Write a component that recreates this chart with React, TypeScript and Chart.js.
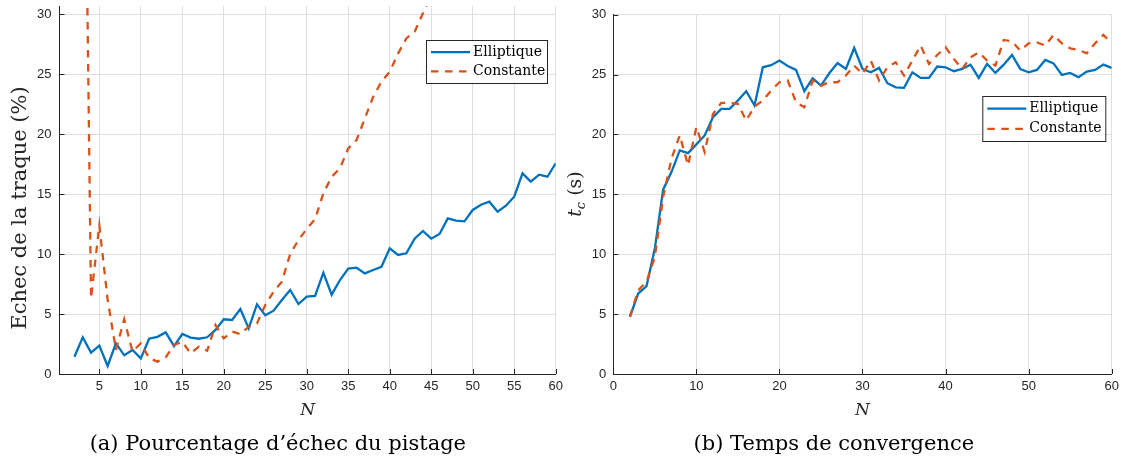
import React, { useEffect, useRef } from 'react';
import { Chart, registerables } from 'chart.js';

Chart.register(...registerables);

// ---------- data ----------
const nValues = [
  2, 3, 4, 5, 6, 7, 8, 9, 10, 11, 12, 13, 14, 15, 16, 17, 18, 19, 20, 21,
  22, 23, 24, 25, 26, 27, 28, 29, 30, 31, 32, 33, 34, 35, 36, 37, 38, 39, 40, 41,
  42, 43, 44, 45, 46, 47, 48, 49, 50, 51, 52, 53, 54, 55, 56, 57, 58, 59, 60,
];

// (a) Pourcentage d'échec du pistage (%)
const failElliptique = [
  1.44, 3.06, 1.78, 2.36, 0.67, 2.56, 1.56, 2.0, 1.3, 2.94, 3.1, 3.47, 2.33, 3.33, 3.03, 2.94, 3.06, 3.67, 4.56, 4.5,
  5.42, 3.8, 5.8, 4.89, 5.28, 6.17, 7.0, 5.83, 6.44, 6.5, 8.44, 6.61, 7.83, 8.78, 8.86, 8.39, 8.67, 8.94, 10.47, 9.92,
  10.06, 11.28, 11.92, 11.28, 11.67, 12.97, 12.78, 12.72, 13.67, 14.11, 14.36, 13.53, 14.03, 14.78, 16.72, 16.03, 16.61, 16.44, 17.56,
];
const failConstante: (number | null)[] = [
  null, 62, 6.3, 12.4, 6.2, 2.0, 4.56, 1.86, 2.56, 1.33, 1.03, 1.39, 2.42, 2.69, 1.72, 2.28, 1.94, 4.08, 2.97, 3.53,
  3.33, 3.94, 4.22, 5.75, 6.86, 7.7, 10.0, 11.17, 12.1, 12.9, 15.06, 16.44, 17.14, 18.8, 19.5, 21.3, 23.1, 24.36, 25.2, 26.7,
  27.97, 28.53, 30.06, 31.6, null, null, null, null, null, null, null, null, null, null, null, null, null, null, null,
];

// (b) Temps de convergence t_c (s)
const tcElliptique = [
  4.78, 6.72, 7.33, 10.47, 15.39, 16.86, 18.67, 18.44, 19.17, 19.92, 21.44, 22.14, 22.14, 22.83, 23.61, 22.42, 25.61, 25.78, 26.17, 25.72,
  25.39, 23.61, 24.69, 24.08, 25.11, 25.97, 25.47, 27.22, 25.47, 25.19, 25.56, 24.28, 23.94, 23.89, 25.19, 24.72, 24.72, 25.67, 25.61, 25.28,
  25.47, 25.83, 24.72, 25.89, 25.14, 25.83, 26.64, 25.47, 25.19, 25.39, 26.22, 25.94, 24.97, 25.14, 24.78, 25.25, 25.39, 25.83, 25.56,
];
const tcConstante = [
  4.78, 7.0, 7.69, 9.78, 14.78, 17.97, 19.92, 17.42, 20.61, 18.53, 21.72, 22.64, 22.64, 22.56, 21.17, 22.33, 22.83, 23.67, 24.36, 24.5,
  22.69, 22.28, 24.5, 24.08, 24.36, 24.36, 24.92, 25.75, 25.05, 26.17, 24.5, 25.61, 26.03, 24.92, 26.17, 27.42, 25.89, 26.64, 27.28, 26.31,
  25.47, 26.44, 26.86, 26.17, 25.75, 27.89, 27.78, 27.0, 27.61, 27.69, 27.42, 28.31, 27.61, 27.19, 27.06, 26.78, 27.61, 28.31, 27.61,
];

const failXTicks = [5, 10, 15, 20, 25, 30, 35, 40, 45, 50, 55, 60];
const failYTicks = [0, 5, 10, 15, 20, 25, 30];
const tcXTicks = [0, 10, 20, 30, 40, 50, 60];
const tcYTicks = [0, 5, 10, 15, 20, 25, 30];

const seriesLabels = ['Elliptique', 'Constante'];
const xAxisLabel = 'N';
const failYLabel = 'Echec de la traque (%)';
const captionA = '(a) Pourcentage d\u2019échec du pistage';
const captionB = '(b) Temps de convergence';

// ---------- styles ----------
const BLUE = '#0072BD';
const ORANGE = '#D95319';
const AXIS = '#262626';
const GRID = '#dfdfdf';
const SERIF = '"DejaVu Serif", "Liberation Serif", serif';
const SANS = '"Liberation Sans", Arial, sans-serif';
const LINE_W = 2.3;

type Box = { x: number; y: number; w: number; h: number };

function legendPlugin(box: Box) {
  return {
    id: 'boxLegend',
    afterDraw(chart: any) {
      const ctx = chart.ctx as CanvasRenderingContext2D;
      ctx.save();
      ctx.fillStyle = '#ffffff';
      ctx.fillRect(box.x, box.y, box.w, box.h);
      ctx.setLineDash([]);
      ctx.strokeStyle = AXIS;
      ctx.lineWidth = 1;
      ctx.strokeRect(box.x + 0.5, box.y + 0.5, box.w, box.h);
      chart.data.datasets.forEach((ds: any, i: number) => {
        const rowY = box.y + (i === 0 ? box.h * 0.28 : box.h * 0.73);
        ctx.strokeStyle = ds.borderColor;
        ctx.lineWidth = LINE_W;
        ctx.setLineDash(ds.borderDash || []);
        ctx.beginPath();
        ctx.moveTo(box.x + 5, rowY);
        ctx.lineTo(box.x + 44, rowY);
        ctx.stroke();
        ctx.setLineDash([]);
        ctx.fillStyle = '#000';
        ctx.font = `14px ${SERIF}`;
        ctx.textAlign = 'left';
        ctx.textBaseline = 'middle';
        ctx.fillText(ds.label, box.x + 47, rowY);
      });
      ctx.restore();
    },
  };
}

const inwardTicks = {
  id: 'inwardTicks',
  afterDatasetsDraw(chart: any) {
    const { ctx, chartArea, scales } = chart;
    ctx.save();
    ctx.strokeStyle = AXIS;
    ctx.lineWidth = 1;
    ctx.setLineDash([]);
    ctx.beginPath();
    scales.x.ticks.forEach((t: any) => {
      const px = Math.round(scales.x.getPixelForValue(t.value)) + 0.5;
      ctx.moveTo(px, chartArea.bottom);
      ctx.lineTo(px, chartArea.bottom - 5);
    });
    scales.y.ticks.forEach((t: any) => {
      const py = Math.round(scales.y.getPixelForValue(t.value)) + 0.5;
      ctx.moveTo(chartArea.left, py);
      ctx.lineTo(chartArea.left + 5, py);
    });
    ctx.stroke();
    ctx.restore();
  },
};

function yTitlePlugin(draw: (ctx: CanvasRenderingContext2D) => void) {
  return {
    id: 'yTitle',
    afterDraw(chart: any) {
      const ctx = chart.ctx as CanvasRenderingContext2D;
      ctx.save();
      draw(ctx);
      ctx.restore();
    },
  };
}

function buildConfig(p: {
  a: (number | null)[];
  b: (number | null)[];
  xMin: number;
  xMax: number;
  yMax: number;
  xTicks: number[];
  yTicks: number[];
  yAxisWidth: number;
  yPad: number;
  padTop: number;
  padRight: number;
  caption: string;
  legend: Box;
  yTitle: (ctx: CanvasRenderingContext2D) => void;
}): any {
  return {
    type: 'line',
    data: {
      datasets: [
        {
          label: seriesLabels[0],
          data: nValues.map((n, i) => ({ x: n, y: p.a[i] })),
          borderColor: BLUE,
          backgroundColor: BLUE,
          borderWidth: LINE_W,
          pointRadius: 0,
          tension: 0,
          fill: false,
          order: 1,
        },
        {
          label: seriesLabels[1],
          data: nValues.map((n, i) => ({ x: n, y: p.b[i] })),
          borderColor: ORANGE,
          backgroundColor: ORANGE,
          borderWidth: LINE_W,
          borderDash: [7.5, 6.5],
          pointRadius: 0,
          tension: 0,
          fill: false,
          order: 0,
        },
      ],
    },
    options: {
      responsive: false,
      animation: false,
      events: [],
      layout: { padding: { left: 0, top: p.padTop, right: p.padRight, bottom: 0 } },
      plugins: {
        legend: { display: false },
        tooltip: { enabled: false },
        title: {
          display: true,
          position: 'bottom',
          text: p.caption,
          color: '#000',
          font: { family: SERIF, size: 21, weight: 'normal', lineHeight: 1.2 },
          padding: { top: 12.8, bottom: 6 },
        },
      },
      scales: {
        x: {
          type: 'linear',
          bounds: 'data',
          min: p.xMin,
          max: p.xMax,
          afterBuildTicks: (s: any) => {
            s.ticks = p.xTicks.map((v) => ({ value: v }));
          },
          afterFit: (s: any) => {
            s.height = 45;
            s.paddingLeft = 0;
            s.paddingRight = 0;
          },
          grid: { color: GRID, lineWidth: 1, drawTicks: false },
          border: { color: AXIS, width: 1 },
          ticks: { font: { family: SANS, size: 13 }, color: AXIS, padding: 5, maxRotation: 0, autoSkip: false },
          title: {
            display: true,
            text: xAxisLabel,
            color: AXIS,
            font: { family: SERIF, size: 17, style: 'italic', lineHeight: 1 },
            padding: { top: 0, bottom: 0 },
          },
        },
        y: {
          type: 'linear',
          bounds: 'data',
          min: 0,
          max: p.yMax,
          afterBuildTicks: (s: any) => {
            s.ticks = p.yTicks.map((v) => ({ value: v }));
          },
          afterFit: (s: any) => {
            s.width = p.yAxisWidth;
            s.paddingTop = 0;
            s.paddingBottom = 0;
          },
          grid: { color: GRID, lineWidth: 1, drawTicks: false },
          border: { color: AXIS, width: 1 },
          ticks: { font: { family: SANS, size: 13 }, color: AXIS, padding: p.yPad },
          title: { display: false },
        },
      },
    },
    plugins: [inwardTicks, legendPlugin(p.legend), yTitlePlugin(p.yTitle)],
  };
}

export default function App() {
  const ref1 = useRef<HTMLCanvasElement>(null);
  const ref2 = useRef<HTMLCanvasElement>(null);

  useEffect(() => {
    const cfg1 = buildConfig({
      a: failElliptique,
      b: failConstante,
      xMin: 0.2,
      xMax: 60,
      yMax: 30.67,
      xTicks: failXTicks,
      yTicks: failYTicks,
      yAxisWidth: 59.5,
      yPad: 8,
      padTop: 6,
      padRight: 9.3,
      caption: captionA,
      legend: { x: 426, y: 40, w: 121, h: 43 },
      yTitle: (ctx) => {
        ctx.translate(21, 208);
        ctx.rotate(-Math.PI / 2);
        ctx.font = `21px ${SERIF}`;
        ctx.fillStyle = AXIS;
        ctx.textAlign = 'center';
        ctx.textBaseline = 'middle';
        ctx.fillText(failYLabel, 0, 0);
      },
    });
    const cfg2 = buildConfig({
      a: tcElliptique,
      b: tcConstante,
      xMin: 0,
      xMax: 60,
      yMax: 30,
      xTicks: tcXTicks,
      yTicks: tcYTicks,
      yAxisWidth: 57.3,
      yPad: 7,
      padTop: 14.7,
      padRight: 9.3,
      caption: captionB,
      legend: { x: 426.3, y: 96, w: 123, h: 45 },
      yTitle: (ctx) => {
        ctx.translate(19, 194);
        ctx.rotate(-Math.PI / 2);
        ctx.fillStyle = AXIS;
        ctx.textAlign = 'left';
        ctx.textBaseline = 'alphabetic';
        const fMain = `italic 19px ${SERIF}`;
        const fSub = `italic 13px ${SERIF}`;
        const fRest = `19px ${SERIF}`;
        ctx.font = fMain;
        const w1 = ctx.measureText('t').width;
        ctx.font = fSub;
        const w2 = ctx.measureText('c').width;
        ctx.font = fRest;
        const w3 = ctx.measureText(' (s)').width;
        let cx = -(w1 + w2 + w3) / 2;
        const base = 6;
        ctx.font = fMain;
        ctx.fillText('t', cx, base);
        cx += w1;
        ctx.font = fSub;
        ctx.fillText('c', cx, base + 4);
        cx += w2;
        ctx.font = fRest;
        ctx.fillText(' (s)', cx, base);
      },
    });
    const c1 = new Chart(ref1.current as HTMLCanvasElement, cfg1);
    const c2 = new Chart(ref2.current as HTMLCanvasElement, cfg2);
    return () => {
      c1.destroy();
      c2.destroy();
    };
  }, []);

  return (
    <div
      style={{
        position: 'fixed',
        left: 0,
        top: 0,
        width: 1121,
        height: 463,
        background: '#ffffff',
        overflow: 'hidden',
      }}
    >
      <canvas ref={ref1} width={565} height={463} style={{ position: 'absolute', left: 0, top: 0 }} />
      <canvas ref={ref2} width={565} height={463} style={{ position: 'absolute', left: 556, top: 0 }} />
    </div>
  );
}
